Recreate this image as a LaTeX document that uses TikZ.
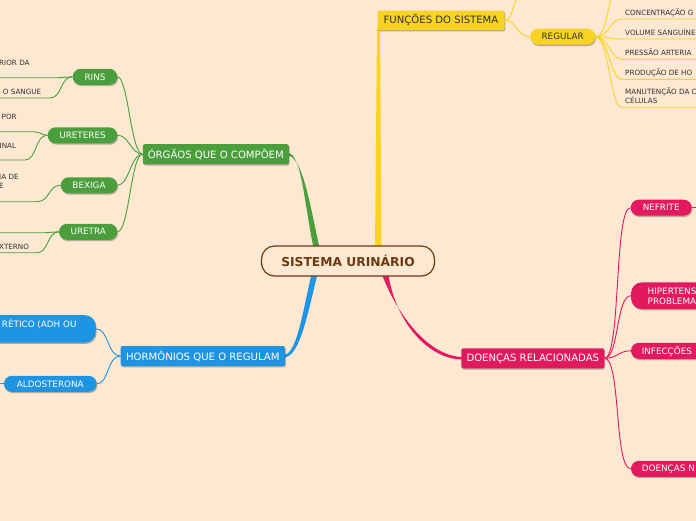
\documentclass[tikz,border=0pt]{standalone}
\usepackage{fontspec}
\setmainfont{DejaVu Sans}
\usetikzlibrary{shadows}
\definecolor{bg}{HTML}{FDE8D2}
\definecolor{gr}{HTML}{4A9E3B}
\definecolor{ye}{HTML}{F9D322}
\definecolor{bl}{HTML}{1E94E4}
\definecolor{pk}{HTML}{E2195E}
\definecolor{br}{HTML}{6B3A12}
\definecolor{tx}{HTML}{333333}
\tikzset{
  shad/.style={drop shadow={shadow xshift=0.8pt,shadow yshift=-1.3pt,opacity=0.28,fill=black}},
  topic/.style={rectangle,rounded corners=2pt,inner sep=0pt,minimum height=20pt,font=\fontsize{10.1}{12}\selectfont,shad},
  pill/.style={rectangle,rounded corners=8pt,inner sep=0pt,minimum height=16pt,font=\fontsize{8.8}{10.5}\selectfont,shad},
  pilltxt/.style={font=\fontsize{8.8}{10.7}\selectfont,inner sep=0pt,text=white},
  leaf/.style={font=\fontsize{7.2}{8.7}\selectfont,text=tx,inner sep=0pt,anchor=base west},
  con/.style={line width=0.9pt},
}
\begin{document}
\begin{tikzpicture}[x=1pt,y=-1pt]
\useasboundingbox (0,0) rectangle (696,520);
\clip (0,0) rectangle (696,520);
\fill[bg] (-10,-10) rectangle (706,530);

% ---------- main tapered branches ----------
\fill[gr] (288,153) .. controls (302,153.5) and (305,210) .. (314,250)
  -- (320,250) .. controls (311,210) and (303,157) .. (288,155.5) -- cycle;
\fill[ye] (377,28) -- (380,28) -- (381.5,250) -- (375,250) -- cycle;
\fill[bl] (284,355) .. controls (297,354) and (303,310) .. (312,272)
  -- (318,272) .. controls (308,312) and (300,357) .. (284,357.5) -- cycle;
\fill[pk] (381,272) .. controls (398,318) and (430,356) .. (462,357)
  -- (462,359.5) .. controls (428,359) and (395,322) .. (388,272) -- cycle;

% ---------- central node ----------
\node[draw=br,line width=1.2pt,fill=bg,rounded corners=13pt,minimum width=173pt,minimum height=30pt,
  inner sep=0pt,text=br,font=\fontsize{12.3}{14}\selectfont\bfseries] (root) at (348,261) {SISTEMA URINÁRIO};

% ---------- green: organs ----------
\node[topic,fill=gr,text=white,minimum width=146pt] (org) at (215.8,154.2) {ÓRGÃOS QUE O COMPÕEM};
\node[pill,fill=gr,text=white,minimum width=44.6pt] (rins) at (95,76.8) {RINS};
\node[pill,fill=gr,text=white,minimum width=69.6pt] (uret) at (82.5,135.3) {URETERES};
\node[pill,fill=gr,text=white,minimum width=56.6pt] (bex) at (89,185.3) {BEXIGA};
\node[pill,fill=gr,text=white,minimum width=58.3pt] (ura) at (88.2,231.8) {URETRA};
\begin{scope}[draw=gr,con]
\draw (org.west) .. controls (131,154) and (128,77) .. (rins.east);
\draw (org.west) .. controls (131,154) and (129,135) .. (uret.east);
\draw (org.west) .. controls (131,154) and (129,185) .. (bex.east);
\draw (org.west) .. controls (131,154) and (129,231.8) .. (ura.east);
\draw (rins.west) .. controls (66,77) and (64,77.7) .. (58,77.7) -- (-5,77.7);
\draw (rins.west) .. controls (60,77) and (62,98) .. (50,98) -- (-5,98);
\draw (uret.west) .. controls (42,135) and (40,131.7) .. (33,131.7) -- (-5,131.7);
\draw (uret.west) .. controls (35,135) and (37,160) .. (25,160) -- (-5,160);
\draw (bex.west) .. controls (48,185.3) and (50,201.7) .. (37,201.7) -- (-5,201.7);
\draw (ura.west) .. controls (52,232) and (50,232.7) .. (45,232.7) -- (-5,232.7);
\draw (ura.west) .. controls (47,231.8) and (49,252.7) .. (37,252.7) -- (-5,252.7);
\end{scope}
\node[leaf] (l1) at (-1,65.3) {RIOR DA};
\node[leaf] (l2) at (2.7,94.3) {O SANGUE};
\node[leaf] (l3) at (1.5,119.3) {POR};
\node[leaf] (l4) at (-0.5,148.3) {INAL};
\node[leaf] (l5) at (-1,179.3) {IA DE};
\node[leaf] (l6) at (-1,188) {E};
\node[leaf] (l7) at (-1,249.3) {XTERNO};

% ---------- yellow: functions ----------
\node[topic,fill=ye,text=tx,minimum width=127pt,minimum height=19.5pt] (fun) at (441,20.3) {FUNÇÕES DO SISTEMA};
\node[pill,fill=ye,text=tx,minimum width=65pt] (reg) at (562.7,36.7) {REGULAR};
\coordinate (fup) at (519,-8);
\coordinate (rup) at (613,-8);
\begin{scope}[draw=ye,con]
\draw (fun.east) .. controls (512,20.3) and (513,4) .. (fup);
\draw (fun.east) .. controls (517,20.3) and (516,36.7) .. (reg.west);
\draw (reg.east) .. controls (606,36.7) and (607,8) .. (rup);
\foreach \yy in {19,39,59.3,79.3,107.7}{
  \draw (reg.east) .. controls (609,36.7) and (610,\yy) .. (622,\yy) -- (700,\yy);
}
\end{scope}
\node[leaf] (r1) at (625,15.3) {CONCENTRAÇÃO G};
\node[leaf] (r2) at (625,35.3) {VOLUME SANGUÍNE};
\node[leaf] (r3) at (625,55.3) {PRESSÃO ARTERIA};
\node[leaf] (r4) at (625,75.3) {PRODUÇÃO DE HO};
\node[leaf] (r5) at (625,94.6) {MANUTENÇÃO DA C};
\node[leaf] (r6) at (625,103.3) {CÉLULAS};

% ---------- blue: hormones ----------
\node[topic,fill=bl,text=white,minimum width=164.3pt] (hor) at (202.8,356) {HORMÔNIOS QUE O REGULAM};
\node[pill,fill=bl,rounded corners=11pt,minimum width=170pt,minimum height=27.5pt,anchor=east] (adh) at (96,328.9) {};
\node[pilltxt,anchor=base east] (adht) at (76.7,327.3) {RÉTICO (ADH OU};
\node[pill,fill=bl,text=white,minimum width=92.7pt] (ald) at (50.3,383.8) {ALDOSTERONA};
\coordinate (aldl) at (-5,383.8);
\begin{scope}[draw=bl,con]
\draw (hor.west) .. controls (107,356) and (109,328.9) .. (adh.east);
\draw (hor.west) .. controls (107,356) and (109,383.8) .. (ald.east);
\draw (ald.west) -- (aldl);
\end{scope}

% ---------- pink: diseases ----------
\node[topic,fill=pk,text=white,minimum width=143pt] (doe) at (532.8,358.3) {DOENÇAS RELACIONADAS};
\node[pill,fill=pk,text=white,minimum width=61pt] (nef) at (661.2,207.7) {NEFRITE};
\node[pill,fill=pk,rounded corners=11pt,minimum width=90pt,minimum height=26.7pt,anchor=west] (hip) at (630.8,295.7) {};
\node[pilltxt,anchor=west,align=left] (hipt) at (647.5,296.3) {HIPERTENS\\PROBLEMA};
\node[pill,fill=pk,text=white,minimum width=90pt,anchor=west,align=left,text width=80pt,inner xsep=10.8pt] (inf) at (630.8,350.8) {INFECÇÕES};
\node[pill,fill=pk,text=white,minimum width=90pt,anchor=west,align=left,text width=80pt,inner xsep=10.8pt] (dn) at (630.8,468.8) {DOENÇAS N};
\coordinate (nefr) at (700,207.7);
\begin{scope}[draw=pk,con]
\draw (doe.east) .. controls (621,358.3) and (614,207.7) .. (nef.west);
\draw (doe.east) .. controls (619,358.3) and (616,295.7) .. (hip.west);
\draw (doe.east) .. controls (618,358.3) and (618,350.8) .. (inf.west);
\draw (doe.east) .. controls (621,358.3) and (614,468.8) .. (dn.west);
\draw (nef.east) -- (nefr);
\end{scope}
\end{tikzpicture}
\end{document}
